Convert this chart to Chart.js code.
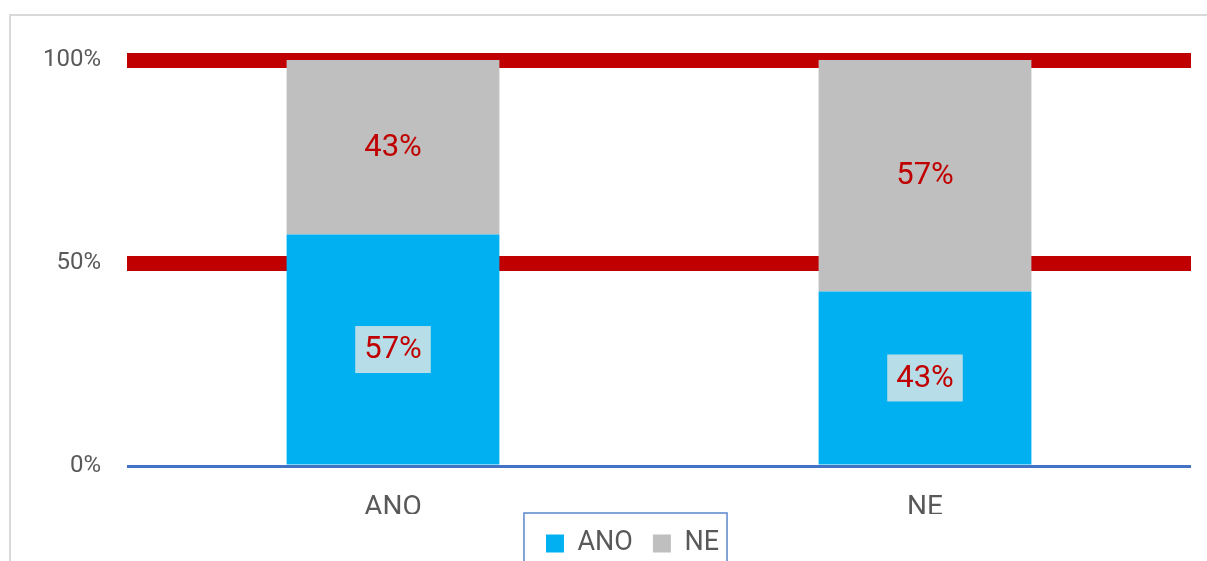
<!DOCTYPE html>
<html>
<head>
<meta charset="utf-8">
<script src="https://cdn.jsdelivr.net/npm/chart.js@4"></script>
<style>
  html, body { margin: 0; padding: 0; background: #fff; overflow: hidden; }
  #wrap { width: 1207px; height: 571px; }
</style>
</head>
<body>
<div id="wrap"><canvas id="chart"></canvas></div>
<script>
  const categories = ['ANO', 'NE'];
  const anoValues = [57, 43];
  const neValues = [43, 57];
  const yTickValues = [0, 50, 100];

  const font = 'Roboto';
  const textGray = '#595959';
  const labelRed = '#C00000';

  // outer frame of the chart object
  const framePlugin = {
    id: 'frame',
    beforeDraw(chart) {
      const ctx = chart.ctx;
      ctx.save();
      ctx.strokeStyle = '#D9D9D9';
      ctx.lineWidth = 2;
      ctx.strokeRect(10, 15, 1400, 800);
      ctx.restore();
    }
  };

  // percentage labels in the middle of each segment
  const segmentLabels = {
    id: 'segmentLabels',
    afterDatasetsDraw(chart) {
      const ctx = chart.ctx;
      ctx.save();
      ctx.font = '31px ' + font;
      ctx.textAlign = 'center';
      ctx.textBaseline = 'middle';
      chart.data.datasets.forEach((ds, i) => {
        const meta = chart.getDatasetMeta(i);
        meta.data.forEach((bar, j) => {
          const p = bar.getProps(['x', 'y', 'base'], true);
          const cy = (p.y + p.base) / 2;
          const txt = ds.data[j] + '%';
          if (i === 0) {
            const w = ctx.measureText(txt).width + 18;
            ctx.fillStyle = '#B7DEE8';
            ctx.fillRect(p.x - w / 2, cy - 23.5, w, 47);
          }
          ctx.fillStyle = labelRed;
          ctx.fillText(txt, p.x, cy + 1);
        });
      });
      ctx.restore();
    }
  };

  // legend sits a little right of centre, with a border round it
  const legendBox = {
    id: 'legendBox',
    afterLayout(chart) {
      chart.legend.left += 37;
      chart.legend.right += 37;
      chart.legend.top -= 4;
      chart.legend.bottom -= 4;
    },
    afterDraw(chart) {
      const boxes = chart.legend.legendHitBoxes;
      if (!boxes || !boxes.length) return;
      const first = boxes[0], last = boxes[boxes.length - 1];
      const ctx = chart.ctx;
      ctx.save();
      ctx.strokeStyle = '#5B87CC';
      ctx.lineWidth = 1.5;
      ctx.strokeRect(first.left - 22, first.top - 17, (last.left + last.width + 8) - (first.left - 22), 200);
      ctx.restore();
    }
  };

  new Chart(document.getElementById('chart'), {
    type: 'bar',
    data: {
      labels: categories,
      datasets: [
        { label: 'ANO', data: anoValues, backgroundColor: '#00B0F0' },
        { label: 'NE', data: neValues, backgroundColor: '#BFBFBF' }
      ]
    },
    options: {
      responsive: true,
      maintainAspectRatio: false,
      animation: false,
      layout: { padding: { left: 0, right: 16, top: 60, bottom: 0 } },
      datasets: { bar: { categoryPercentage: 1, barPercentage: 0.4 } },
      scales: {
        x: {
          stacked: true,
          grid: { display: false, drawTicks: false },
          border: { display: false },
          ticks: { color: textGray, font: { family: font, size: 28 }, padding: 25 },
          afterFit(scale) { scale.height = 48; }
        },
        y: {
          stacked: true,
          min: 0,
          max: 100,
          afterBuildTicks(scale) { scale.ticks = yTickValues.map(v => ({ value: v })); },
          grid: {
            drawTicks: false,
            color: c => c.tick && c.tick.value === 0 ? '#4472C4' : '#C00000',
            lineWidth: c => c.tick && c.tick.value === 0 ? 3 : 15
          },
          border: { display: false },
          ticks: {
            color: textGray,
            font: { family: font, size: 24 },
            padding: 26,
            callback: v => v + '%'
          },
          afterFit(scale) { scale.width = 127; }
        }
      },
      plugins: {
        legend: {
          position: 'bottom',
          labels: {
            color: textGray,
            font: { family: font, size: 27 },
            boxWidth: 18,
            boxHeight: 18,
            padding: 20
          }
        },
        tooltip: { enabled: false }
      }
    },
    plugins: [framePlugin, segmentLabels, legendBox]
  });
</script>
</body>
</html>
